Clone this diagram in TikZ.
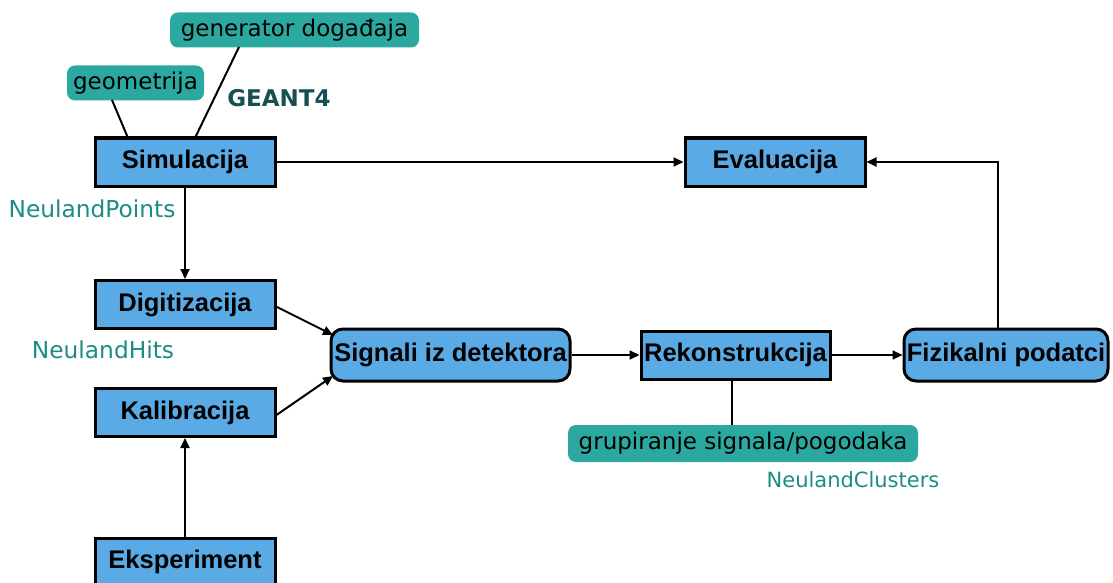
\documentclass[tikz,border=0pt]{standalone}
\usepackage{fontspec}
\setmainfont{DejaVu Sans}
\newfontfamily\boxfont{Liberation Sans}
\usetikzlibrary{arrows.meta}
\definecolor{boxblue}{RGB}{90,170,230}
\definecolor{tealbox}{RGB}{43,168,160}
\definecolor{tealtext}{RGB}{28,140,132}
\definecolor{darkteal}{RGB}{22,80,80}
\tikzset{
  proc/.style={draw=black, line width=3pt, fill=boxblue, inner sep=0pt,
    minimum width=180pt, minimum height=48pt,
    font=\boxfont\bfseries\fontsize{25.5}{30}\selectfont},
  rproc/.style={proc, rounded corners=12pt, minimum height=52pt},
  tag/.style={fill=tealbox, rounded corners=8pt, inner sep=0pt, minimum height=35pt,
    font=\fontsize{23}{28}\selectfont, text=black},
  lbl/.style={text=tealtext, inner sep=0pt, font=\fontsize{23.3}{28}\selectfont},
  conn/.style={line width=2pt, draw=black},
  arr/.style={conn, -{Triangle[length=10pt,width=9pt]}}
}
\begin{document}
\begin{tikzpicture}[x=1pt,y=-1pt]
\useasboundingbox (0,0) rectangle (1113,583);
% main boxes
\node[proc] (sim) at (185,162) {Simulacija};
\node[proc] (eval) at (775,162) {Evaluacija};
\node[proc] (dig) at (185,304.5) {Digitizacija};
\node[proc] (kal) at (185,412.5) {Kalibracija};
\node[proc] (eks) at (185,562) {Eksperiment};
\node[rproc, minimum width=239pt] (sig) at (450.5,355) {Signali iz detektora};
\node[proc, minimum width=189pt] (rek) at (735.5,355) {Rekonstrukcija};
\node[rproc, minimum width=204pt] (fiz) at (1006,355) {Fizikalni podatci};
% teal tags
\node[tag, minimum width=137pt] (geo) at (135.5,83) {geometrija};
\node[tag, minimum width=249pt] (gen) at (294.5,30) {generator događaja};
\node[tag, minimum width=350pt, minimum height=37pt] (grp) at (743,443.5) {grupiranje signala/pogodaka};
% labels
\node[lbl] (np) at (92,209) {NeulandPoints};
\node[lbl] (nh) at (103,350) {NeulandHits};
\node[lbl, font=\fontsize{21}{26}\selectfont] (nc) at (853,480) {NeulandClusters};
\node[text=darkteal, font=\bfseries\fontsize{23}{28}\selectfont, inner sep=0pt] (g4) at (279,98) {GEANT4};
% connectors
\coordinate (geoA) at (112,100);
\coordinate (geoB) at (128,138);
\draw[conn] (geoA) -- (geoB);
\coordinate (genA) at (239,47);
\coordinate (genB) at (195,138);
\draw[conn] (genA) -- (genB);
\draw[arr] (sim.east) -- (eval.west);
\draw[arr] (sim.south) -- (dig.north);
\coordinate (digE) at (275,306);
\coordinate (kalE) at (275,416);
\coordinate (sigA) at (333,335);
\coordinate (sigB) at (333,376);
\draw[arr] (digE) -- (sigA);
\draw[arr] (kalE) -- (sigB);
\draw[arr] (eks.north) -- (kal.south);
\draw[arr] (sig.east) -- (rek.west);
\draw[arr] (rek.east) -- (fiz.west);
\coordinate (fizT) at (998,329);
\draw[arr] (fizT) |- (eval.east);
\coordinate (rekB) at (732,379);
\coordinate (grpT) at (732,425);
\draw[conn] (rekB) -- (grpT);
\end{tikzpicture}
\end{document}
